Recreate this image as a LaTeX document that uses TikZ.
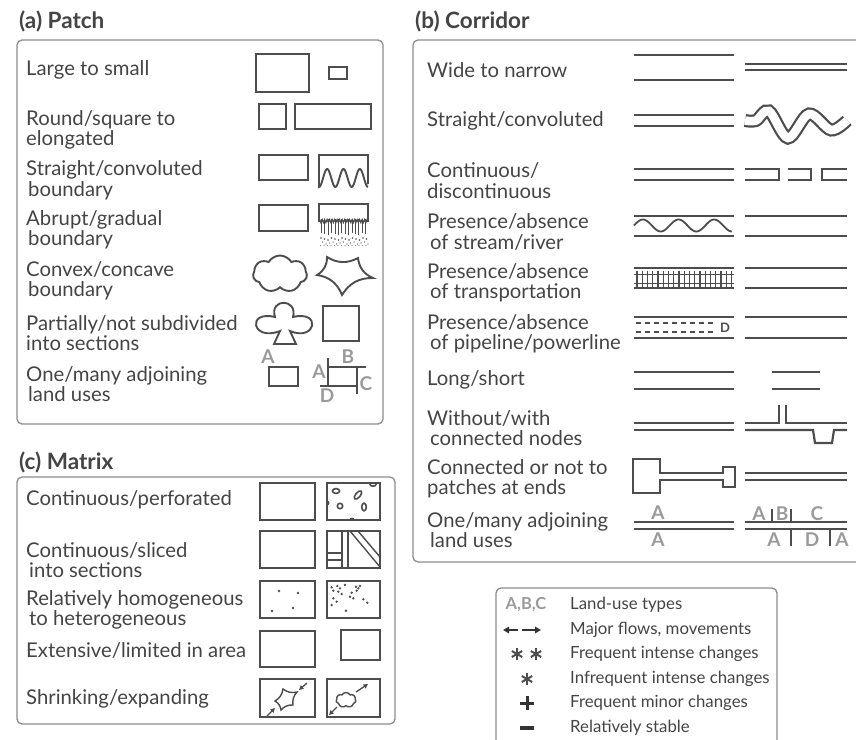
\documentclass[tikz,border=0pt]{standalone}
\usepackage{fontspec}
\setmainfont{Lato}
\usetikzlibrary{shapes.symbols,shapes.geometric,decorations.pathmorphing,arrows.meta}
\definecolor{txt}{HTML}{444444}
\definecolor{ln}{HTML}{4D4D4D}
\definecolor{frm}{HTML}{8C8C8C}
\definecolor{lt}{HTML}{9A9A9A}
\begin{document}
\begin{tikzpicture}[x=1pt,y=-1pt,
  lbl/.style={anchor=west,align=left,font=\fontsize{20.3}{20.5}\selectfont,text=txt,inner sep=0pt},
  ttl/.style={anchor=west,font=\bfseries\fontsize{22.5}{24}\selectfont,text=txt,inner sep=0pt},
  frame/.style={draw=frm,line width=1.3pt,rounded corners=5pt},
  ico/.style={draw=ln,line width=1.9pt},
  cor/.style={draw=ln,line width=2.2pt},
  thinln/.style={draw=ln,line width=1.4pt},
  glet/.style={font=\bfseries\fontsize{19}{19}\selectfont,text=lt,inner sep=0pt},
  leg/.style={anchor=west,font=\fontsize{16.8}{18}\selectfont,text=txt,inner sep=0pt},
  arr/.style={draw=ln,line width=1.3pt,-{Triangle[length=4.5pt,width=4.5pt]}},
  legarr/.style={draw=black!80,line width=1.6pt,-{Triangle[length=6pt,width=6.5pt]}}]
\useasboundingbox (0,0) rectangle (856,739);
\clip (0,0) rectangle (856,739);

% ---------- frames and titles
\node[ttl] (ta) at (19,21) {(a) Patch};
\draw[frame] (17,40) rectangle (383,424);
\node[ttl] (tb) at (415,21) {(b) Corridor};
\draw[frame] (413,40) rectangle (870,562);
\node[ttl] (tc) at (19,462) {(c) Matrix};
\draw[frame] (17,477) rectangle (395,724);
\draw[frame] (496,588) rectangle (777,760);

% ---------- (a) Patch labels
\node[lbl] (a1) at (26,70) {Large to small};
\node[lbl] (a2) at (26,130) {Round/square to\\elongated};
\node[lbl] (a3) at (26,180.5) {Straight/convoluted\\\hspace{2pt}boundary};
\node[lbl] (a4) at (26,230) {Abrupt/gradual\\\hspace{2pt}boundary};
\node[lbl] (a5) at (26,281) {Convex/concave\\\hspace{2pt}boundary};
\node[lbl] (a6) at (26,333) {Partially/not subdivided\\into sections};
\node[lbl] (a7) at (26,384) {One/many adjoining\\\hspace{2pt}land uses};

% ---------- (a) Patch icons
\draw[ico] (256,54) rectangle (309,92);
\draw[ico] (329,67) rectangle (347,79);
\draw[ico] (259,104) rectangle (286,129);
\draw[ico] (295,104) rectangle (371,129);
\draw[ico] (259,155) rectangle (308,180);
\draw[ico] (368,184) -- (368,155) -- (319,155) -- (319,186)
  -- plot[domain=0:1,samples=80] ({319+49*\x},{178+9*cos(1080*\x)});
\draw[ico] (259,205) rectangle (308,231);
\draw[ico] (319,222) -- (319,204) -- (368,204) -- (368,222);
\draw[ln,line width=1.2pt,decorate,decoration={zigzag,amplitude=1.5pt,segment length=2.5pt}] (319,221) -- (368,221);
\foreach \i in {0,...,13} {
  \draw[ln,line width=0.9pt] ({321.5+3.4*\i},219) -- ++(0,{14+mod(\i,3)});
  \fill[ln] ({321+3.5*\i},{238+mod(\i,3)}) circle (0.8);
  \fill[ln] ({322.5+3.5*\i},{242+mod(\i*2,3)}) circle (0.7);
  \fill[ln!70] ({320.5+3.5*\i},{245.5}) circle (0.6);
}
\node[cloud,cloud puffs=7,cloud puff arc=120,aspect=1.45,draw=ln,line width=1.9pt,
  minimum width=54pt,minimum height=37pt,inner sep=0pt] (cl1) at (280,274) {};
\draw[ico] (317,275) to[bend right=30] (327,257) to[bend right=30] (358,258)
  to[bend right=30] (373,278) to[bend right=30] (342,295) to[bend right=30] (317,275) -- cycle;
\draw[ico] (290,331) .. controls (316,342) and (322,310) .. (293,317)
  .. controls (298,298) and (269,298) .. (275,317)
  .. controls (246,310) and (252,342) .. (280,331)
  -- (274,344) -- (296,344) -- cycle;
\draw[ico] (323,306) rectangle (359,341);
\node[glet] (pA) at (268,357) {A};
\draw[ico] (269,367) rectangle (298,386);
\draw[ico] (328,358) -- (328,387);
\draw[ico] (328,367) -- (366,367);
\draw[ico] (357,367) -- (357,394);
\draw[ico] (320,386) -- (357,386);
\node[glet] (pB) at (348,357) {B};
\node[glet] (pA2) at (319,372) {A};
\node[glet] (pC) at (366,384) {C};
\node[glet] (pD) at (327,396) {D};

% ---------- (b) Corridor labels
\node[lbl] (b1) at (427,70) {Wide to narrow};
\node[lbl] (b2) at (427,121) {Straight/convoluted};
\node[lbl] (b3) at (427,180.5) {Continuous/\\discontinuous};
\node[lbl] (b4) at (427,232) {Presence/absence\\\hspace{3pt}of stream/river};
\node[lbl] (b5) at (427,283) {Presence/absence\\\hspace{3pt}of transportation};
\node[lbl] (b6) at (427,334) {Presence/absence\\\hspace{3pt}of pipeline/powerline};
\node[lbl] (b7) at (427,380) {Long/short};
\node[lbl] (b8) at (427,428) {Without/with\\\hspace{3pt}connected nodes};
\node[lbl] (b9) at (427,479) {Connected or not to\\patches at ends};
\node[lbl] (b10) at (427,530) {One/many adjoining\\\hspace{3pt}land uses};

% ---------- (b) Corridor icons
\draw[cor] (634,55) -- (734,55);  \draw[cor] (634,80) -- (734,80);
\draw[cor] (745,64) -- (847,64);  \draw[cor] (745,70) -- (847,70);
\draw[cor] (634,115) -- (734,115); \draw[cor] (634,126) -- (734,126);
\draw[draw=ln,line width=2.2pt,double=white,double distance=8.6pt]
  plot[smooth,tension=0.55] coordinates {(745,120.5) (756,120.5) (769,111) (788,138) (809,114) (831,130) (847,120.5)};
\draw[cor] (634,169) -- (734,169); \draw[cor] (634,180) -- (734,180);
\draw[cor] (745,169) -- (779,169) -- (779,180) -- (745,180);
\draw[cor] (788,169) -- (811,169) -- (811,180) -- (788,180);
\draw[cor] (847,169) -- (822,169) -- (822,180) -- (847,180);
\draw[cor] (634,216) -- (734,216); \draw[cor] (634,236) -- (734,236);
\draw[ln,line width=1.8pt] plot[domain=0:1,samples=80] ({634+98*\x},{225.5-6*sin(990*\x)});
\draw[cor] (745,216) -- (847,216); \draw[cor] (745,236) -- (847,236);
\draw[cor] (634,268) -- (734,268); \draw[cor] (634,288) -- (734,288);
\draw[ln,line width=0.9pt] (634,274) -- (734,274);
\draw[ln,line width=0.9pt] (634,283) -- (734,283);
\foreach \i in {0,...,18} \draw[ln,line width=1.4pt] ({637+5.25*\i},270.5) -- ++(0,16);
\draw[cor] (745,268) -- (847,268); \draw[cor] (745,288) -- (847,288);
\draw[cor] (634,317) -- (734,317); \draw[cor] (634,338) -- (734,338);
\draw[ln,line width=1.4pt,dash pattern=on 5pt off 4pt] (636,323) -- (716,323);
\draw[ln,line width=1.4pt,dash pattern=on 5pt off 4pt] (636,332) -- (716,332);
\node[glet,text=ln,font=\bfseries\fontsize{13}{13}\selectfont] (pD2) at (725,328) {D};
\draw[cor] (745,317) -- (847,317); \draw[cor] (745,338) -- (847,338);
\draw[cor] (634,372) -- (734,372); \draw[cor] (634,389) -- (734,389);
\draw[cor] (772,372) -- (820,372); \draw[cor] (772,389) -- (820,389);
\draw[cor] (634,423) -- (734,423); \draw[cor] (634,430) -- (734,430);
\draw[cor] (745,423) -- (779,423) -- (779,405);
\draw[cor] (786,405) -- (786,423) -- (847,423);
\draw[cor] (745,430) -- (813,430) -- (815,443) -- (832,443) -- (834,430) -- (847,430);
\draw[cor] (660,473) -- (723,473) -- (723,467) -- (735,467) -- (735,487) -- (723,487)
  -- (723,480) -- (660,480) -- (660,493) -- (633,493) -- (633,459) -- (660,459) -- cycle;
\draw[cor] (745,473) -- (847,473); \draw[cor] (745,480) -- (847,480);
\draw[cor] (634,522) -- (734,522); \draw[cor] (634,529) -- (734,529);
\node[glet] (cA1) at (658,513) {A};
\node[glet] (cA2) at (658,540) {A};
\draw[cor] (745,522) -- (847,522); \draw[cor] (745,529) -- (847,529);
\draw[thinln] (772,509) -- (772,522);
\draw[thinln] (791,509) -- (791,522);
\draw[thinln] (791,529) -- (791,546);
\draw[thinln] (830,529) -- (830,546);
\node[glet] (cA3) at (759,514) {A};
\node[glet] (cB) at (782,514) {B};
\node[glet] (cC) at (817,514) {C};
\node[glet] (cA4) at (774,540) {A};
\node[glet] (cD) at (812,540) {D};
\node[glet] (cA5) at (842,540) {A};

% ---------- (c) Matrix labels
\node[lbl] (c1) at (26,500) {Continuous/perforated};
\node[lbl] (c2) at (26,560) {Continuous/sliced\\\hspace{3pt}into sections};
\node[lbl] (c3) at (26,610) {Relatively homogeneous\\\hspace{3pt}to heterogeneous};
\node[lbl] (c4) at (26,650) {Extensive/limited in area};
\node[lbl] (c5) at (26,699) {Shrinking/expanding};

% ---------- (c) Matrix icons
\draw[ico] (260,483) rectangle (315,520);
\draw[ico] (327,483) rectangle (380,520);
\begin{scope}
  \clip (327,483) rectangle (380,520);
  \draw[ln,line width=1.6pt] (336,491) ellipse [x radius=3.6,y radius=2.4];
  \draw[ln,line width=1.6pt] (373,484) ellipse [x radius=3.2,y radius=2.2];
  \draw[ln,line width=1.6pt,rotate around={50:(358,495)}] (358,495) ellipse [x radius=5,y radius=2.4];
  \draw[ln,line width=1.6pt] (340,506) circle (2.7);
  \draw[ln,line width=1.6pt] (364,507) ellipse [x radius=2.3,y radius=3.8];
  \fill[ln] (327,503) circle (2.5);
  \fill[ln] (352,520) circle (2.5);
\end{scope}
\draw[ico] (260,531) rectangle (315,568);
\draw[ico] (327,531) rectangle (380,568);
\draw[thinln] (342,531) -- (342,568);
\draw[thinln] (348,531) -- (348,568);
\draw[thinln] (327,553) -- (342,553);
\draw[thinln] (327,560) -- (342,560);
\draw[thinln] (350,531) -- (380,567);
\draw[thinln] (358,531) -- (380,557);
\draw[ico] (260,581) rectangle (315,618);
\foreach \p in {(279,591),(298,593),(272,611),(293,608)} \fill[ln] \p circle (1.4);
\draw[ico] (327,581) rectangle (380,618);
\foreach \p in {(331.7,587.3),(337.3,586),(340,588.3),(345,585),(333.3,590.7),(338.3,591.7),
  (341.7,594),(356,586.7),(360,586),(356.7,590.7),(351.7,592.7),(350,596.7),(333.3,598.3),
  (336.7,601.7),(331.7,605),(353.3,598.3),(363.3,599.3),(367.3,602.7),(346,610.7),(358.3,588.3)}
  \fill[ln] \p circle (1.3);
\draw[ico] (260,631) rectangle (315,667);
\draw[ico] (341,630) rectangle (380,660);
\draw[ico] (260,679) rectangle (315,717);
\draw[ico] (327,679) rectangle (380,717);
\draw[ln,line width=1.4pt] (275,701) to[bend right=25] (283,689) to[bend right=25] (297,692)
  to[bend right=25] (293,705) to[bend right=25] (281,710) to[bend right=25] (275,701) -- cycle;
\draw[arr] (307,683) -- (299,690);
\draw[arr] (267,716) -- (275,708);
\node[cloud,cloud puffs=7,cloud puff arc=120,aspect=1.3,draw=ln,line width=1.4pt,
  minimum width=20pt,minimum height=15pt,inner sep=0pt] (cl2) at (346,700) {};
\draw[arr] (356,692) -- (368,684);
\draw[arr] (337,707) -- (329,715);

% ---------- legend
\node[glet,font=\bfseries\fontsize{16.5}{16.5}\selectfont] (lg1) at (526,605) {A,B,C};
\node[leg] (l1) at (570,605) {Land-use types};
\draw[legarr] (518,630) -- (503,630);
\draw[legarr] (522,630) -- (541,630);
\node[leg] (l2) at (570,630) {Major flows, movements};
\foreach \c in {517,536} \foreach \a in {90,30,150}
  \draw[ln,line width=2pt,shift={(\c,654)}] (\a:6) -- (\a+180:6);
\node[leg] (l3) at (570,654) {Frequent intense changes};
\foreach \a in {90,30,150}
  \draw[ln,line width=2pt,shift={(527,679)}] (\a:6) -- (\a+180:6);
\node[leg] (l4) at (570,679) {Infrequent intense changes};
\draw[black!80,line width=3pt] (520,703) -- (534,703);
\draw[black!80,line width=3pt] (527,696) -- (527,710);
\node[leg] (l5) at (570,703) {Frequent minor changes};
\draw[black!80,line width=3.2pt] (520,728) -- (534,728);
\node[leg] (l6) at (570,728) {Relatively stable};
\end{tikzpicture}
\end{document}
